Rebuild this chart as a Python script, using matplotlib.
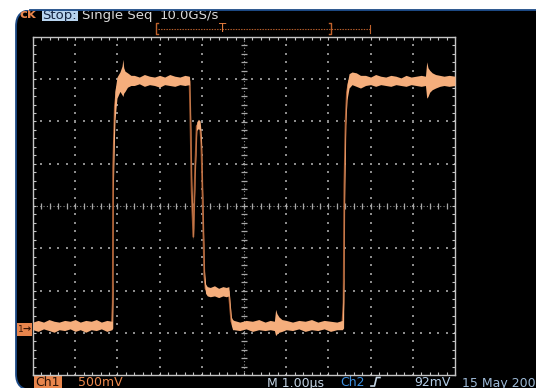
import matplotlib
matplotlib.use('Agg')

import numpy as np
import matplotlib.pyplot as plt
from matplotlib.patches import FancyBboxPatch, Rectangle

# Ch1 trace: time (us) and the upper / lower edge of the noise band (V)
t_us = [0.00, 0.12, 0.25, 0.38, 0.50, 0.62, 0.75, 0.88, 1.00, 1.12, 1.25, 1.38, 1.50, 1.62, 1.75, 1.87,
        1.89, 1.90, 1.94, 1.99, 2.06, 2.11, 2.13, 2.15, 2.18, 2.24, 2.32,
        2.40, 2.52, 2.64, 2.76, 2.88, 3.00, 3.12, 3.24, 3.36, 3.48, 3.60, 3.70,
        3.71, 3.73, 3.76, 3.80, 3.84, 3.88, 3.92, 3.96, 3.99, 4.02, 4.06, 4.09, 4.13,
        4.20, 4.30, 4.40, 4.50, 4.58, 4.64, 4.67, 4.70, 4.73,
        4.76, 4.90, 5.05, 5.20, 5.35, 5.50, 5.62, 5.72, 5.75, 5.78, 5.83, 5.90, 6.00,
        6.15, 6.30, 6.45, 6.60, 6.75, 6.90, 7.05, 7.20, 7.33,
        7.36, 7.38, 7.41, 7.44, 7.49, 7.56, 7.66, 7.76,
        7.88, 8.00, 8.12, 8.24, 8.36, 8.48, 8.60, 8.72, 8.84, 8.96, 9.08, 9.20, 9.30,
        9.33, 9.36, 9.40, 9.46, 9.54, 9.64, 9.74, 9.86, 10.0]
v_hi = [0.07, 0.09, 0.07, 0.10, 0.08, 0.07, 0.09, 0.08, 0.10, 0.07, 0.09, 0.08, 0.10, 0.07, 0.09, 0.08,
        0.60, 2.20, 2.80, 2.97, 3.03, 3.10, 3.18, 3.08, 3.04, 3.02, 2.99,
        2.99, 2.97, 3.00, 2.98, 2.97, 2.99, 2.97, 3.00, 2.98, 2.97, 2.99, 2.98,
        2.97, 2.60, 1.70, 1.12, 1.90, 2.44, 2.47, 2.45, 2.25, 1.60, 0.70, 0.52, 0.49,
        0.48, 0.50, 0.47, 0.49, 0.48, 0.49, 0.30, 0.13, 0.10,
        0.09, 0.07, 0.09, 0.08, 0.10, 0.07, 0.09, 0.08, 0.22, 0.17, 0.13, 0.10, 0.09,
        0.07, 0.09, 0.08, 0.10, 0.07, 0.09, 0.08, 0.07, 0.09,
        0.60, 2.00, 2.55, 2.88, 3.01, 3.03, 3.02, 2.99,
        2.99, 2.97, 3.00, 2.98, 2.97, 2.99, 2.98, 2.96, 2.99, 2.97, 2.98, 2.99, 2.98,
        3.15, 3.08, 3.05, 3.02, 3.00, 2.99, 2.98, 2.99, 2.98]
v_lo = [-0.02, -0.04, -0.01, -0.03, -0.05, -0.02, -0.03, -0.01, -0.04, -0.02, -0.05, -0.02, -0.03, -0.01, -0.04, -0.02,
        0.00, 1.60, 2.45, 2.72, 2.80, 2.76, 2.74, 2.78, 2.80, 2.85, 2.87,
        2.87, 2.89, 2.86, 2.88, 2.87, 2.85, 2.88, 2.87, 2.86, 2.88, 2.87, 2.88,
        2.87, 2.40, 1.55, 1.04, 1.78, 2.34, 2.36, 2.34, 2.10, 1.45, 0.55, 0.41, 0.38,
        0.37, 0.38, 0.36, 0.38, 0.37, 0.38, 0.20, 0.03, -0.02,
        -0.02, -0.03, -0.01, -0.04, -0.02, -0.03, -0.02, -0.03, -0.09, -0.07, -0.05, -0.04, -0.02,
        -0.03, -0.01, -0.04, -0.02, -0.03, -0.01, -0.04, -0.02, -0.02,
        0.00, 1.40, 2.40, 2.70, 2.84, 2.88, 2.86, 2.84,
        2.87, 2.88, 2.86, 2.88, 2.87, 2.86, 2.88, 2.87, 2.86, 2.88, 2.87, 2.86, 2.87,
        2.72, 2.74, 2.79, 2.82, 2.84, 2.86, 2.87, 2.86, 2.87]

US_PER_DIV = 1.0
V_PER_DIV = 0.5
V_CENTER = 1.444      # volts on the centre graticule line (ground marker sits 2.86 div below)
N_XDIV, N_YDIV = 10, 8

TRACE = '#F5AE7C'
TRACE_DIM = '#A85C32'
ORANGE = '#E8854C'
GRAT = '#C4C4C4'
DOTS = '#8C8C8C'

fig = plt.figure(figsize=(5.36, 3.88), dpi=100, facecolor='white')

# background / bezel, in pixel units
bg = fig.add_axes([0, 0, 1, 1])
bg.set_xlim(0, 536)
bg.set_ylim(388, 0)
bg.axis('off')
bg.add_patch(FancyBboxPatch((16, 10), 620, 380, boxstyle='round,pad=0,rounding_size=16',
                            fc='black', ec='#1d4a86', lw=1.3, zorder=1))

# top status line (cut off by the top of the screen)
bg.text(19, 18.5, 'ck', color=ORANGE, fontsize=9.5, fontweight='bold', zorder=3)
bg.add_patch(Rectangle((41.5, 9), 36.5, 12, fc='#B7D3EE', ec='none', zorder=2))
bg.text(42.5, 18.5, 'Stop:', color='#14233F', fontsize=9.5, zorder=3)
bg.text(82, 18.5, 'Single Seq', color='#DADADA', fontsize=9.5, zorder=3)
bg.text(160, 18.5, '10.0GS/s', color='#DADADA', fontsize=9.5, zorder=3)
bg.add_patch(Rectangle((0, 0), 536, 10, fc='white', ec='none', zorder=5))
bg.plot([30, 536], [10, 10], color='#1d4a86', lw=1.3, zorder=6)

# record / trigger position bar
bg.plot([158, 370], [29, 29], color='#C0622C', lw=0.8, ls=(0, (1.2, 1.2)), zorder=3)
bg.plot([158, 156, 156, 158], [23, 23, 34, 34], color='#C0622C', lw=1.0, zorder=3)
bg.plot([329, 331, 331, 329], [23, 23, 34, 34], color='#C0622C', lw=1.0, zorder=3)
bg.plot([370, 370], [25, 33], color='#C0622C', lw=0.8, zorder=3)
bg.text(222.5, 28.5, 'T', color='#E07a3c', fontsize=8.5, ha='center', va='center', zorder=4)

# ground marker
bg.add_patch(Rectangle((16.5, 322.5), 15, 13, fc=ORANGE, ec='none', zorder=3))
bg.text(17.5, 329, '1', color='#3A1606', fontsize=6.5, va='center', zorder=4)
bg.text(22.5, 329, '\u2192', color='#3A1606', fontsize=7, va='center', zorder=4, fontweight='bold')

# bottom readout
bg.add_patch(Rectangle((34, 376), 28, 14, fc=ORANGE, ec='none', zorder=2))
bg.text(35, 386.5, 'Ch1', color='#2B1408', fontsize=9, zorder=3)
bg.text(78, 386.5, '500mV', color='#EE8A4E', fontsize=9, zorder=3)
bg.text(267, 386.5, 'M 1.00\u00b5s', color='#C3D3E3', fontsize=9, zorder=3)
bg.text(340, 386.5, 'Ch2', color='#3B8FE0', fontsize=9, zorder=3)
bg.plot([371, 374.5, 376.5, 380], [386, 386, 377.5, 377.5], color='#C3D3E3', lw=1.2, zorder=3)
bg.text(414, 386.5, '92mV', color='#B4CDE6', fontsize=9, zorder=3)
bg.text(462, 387, '15 May 200', color='#9DB9D6', fontsize=9, zorder=3)

# graticule area
ax = fig.add_axes([33 / 536, 13 / 388, 422 / 536, 338 / 388])
ax.set_facecolor('black')
x0, x1 = 0, N_XDIV * US_PER_DIV
y0 = V_CENTER - N_YDIV / 2 * V_PER_DIV
y1 = V_CENTER + N_YDIV / 2 * V_PER_DIV
ax.set_xlim(x0, x1)
ax.set_ylim(y0, y1)

for s in ax.spines.values():
    s.set_color(GRAT)
    s.set_linewidth(1.0)
ax.set_xticks(np.arange(x0, x1 + 1e-9, US_PER_DIV))
ax.set_yticks(np.arange(y0, y1 + 1e-9, V_PER_DIV))
ax.set_xticks(np.arange(x0, x1 + 1e-9, US_PER_DIV / 5), minor=True)
ax.set_yticks(np.arange(y0, y1 + 1e-9, V_PER_DIV / 5), minor=True)
ax.tick_params(which='both', direction='in', top=True, right=True, length=2.2, width=0.8,
               color=GRAT, labelbottom=False, labelleft=False)

# dotted division lines
xs_minor = np.arange(x0, x1 + 1e-9, US_PER_DIV / 5)
ys_minor = np.arange(y0, y1 + 1e-9, V_PER_DIV / 5)
xc = (x0 + x1) / 2
yc = V_CENTER
for k in range(1, N_XDIV):
    if k == N_XDIV // 2:
        continue
    xm = x0 + k * US_PER_DIV
    ax.scatter(np.full_like(ys_minor, xm), ys_minor, s=1.2, color=DOTS, marker='s', lw=0, zorder=1)
for k in range(1, N_YDIV):
    if k == N_YDIV // 2:
        continue
    ym = y0 + k * V_PER_DIV
    ax.scatter(xs_minor, np.full_like(xs_minor, ym), s=1.2, color=DOTS, marker='s', lw=0, zorder=1)

# centre cross with tick marks
ax.axvline(xc, color=DOTS, lw=0.8, ls=(0, (1, 2)), zorder=1)
ax.axhline(yc, color=DOTS, lw=0.8, ls=(0, (1, 2)), zorder=1)
ax.hlines(ys_minor, xc - 0.07 * US_PER_DIV, xc + 0.07 * US_PER_DIV, color='#A8A8A8', lw=0.9, zorder=1)
ax.vlines(xs_minor, yc - 0.07 * V_PER_DIV, yc + 0.07 * V_PER_DIV, color='#A8A8A8', lw=0.9, zorder=1)

# trace
t = np.array(t_us)
hi = np.array(v_hi)
lo = np.array(v_lo)
ax.plot(t, (hi + lo) / 2, color=TRACE_DIM, lw=1.3, zorder=2)
ax.fill_between(t, lo, hi, color=TRACE, lw=0, zorder=3)

# trigger level marker box (channel 1 level)
bg.add_patch(Rectangle((186, 190), 10, 12, fc=ORANGE, ec='none', zorder=8))
bg.plot([191, 191], [192, 200], color='#3A1606', lw=1.2, zorder=9)
bg.set_zorder(0)
ax.set_zorder(1)

fig.savefig('out.png', dpi=100, facecolor='white')
